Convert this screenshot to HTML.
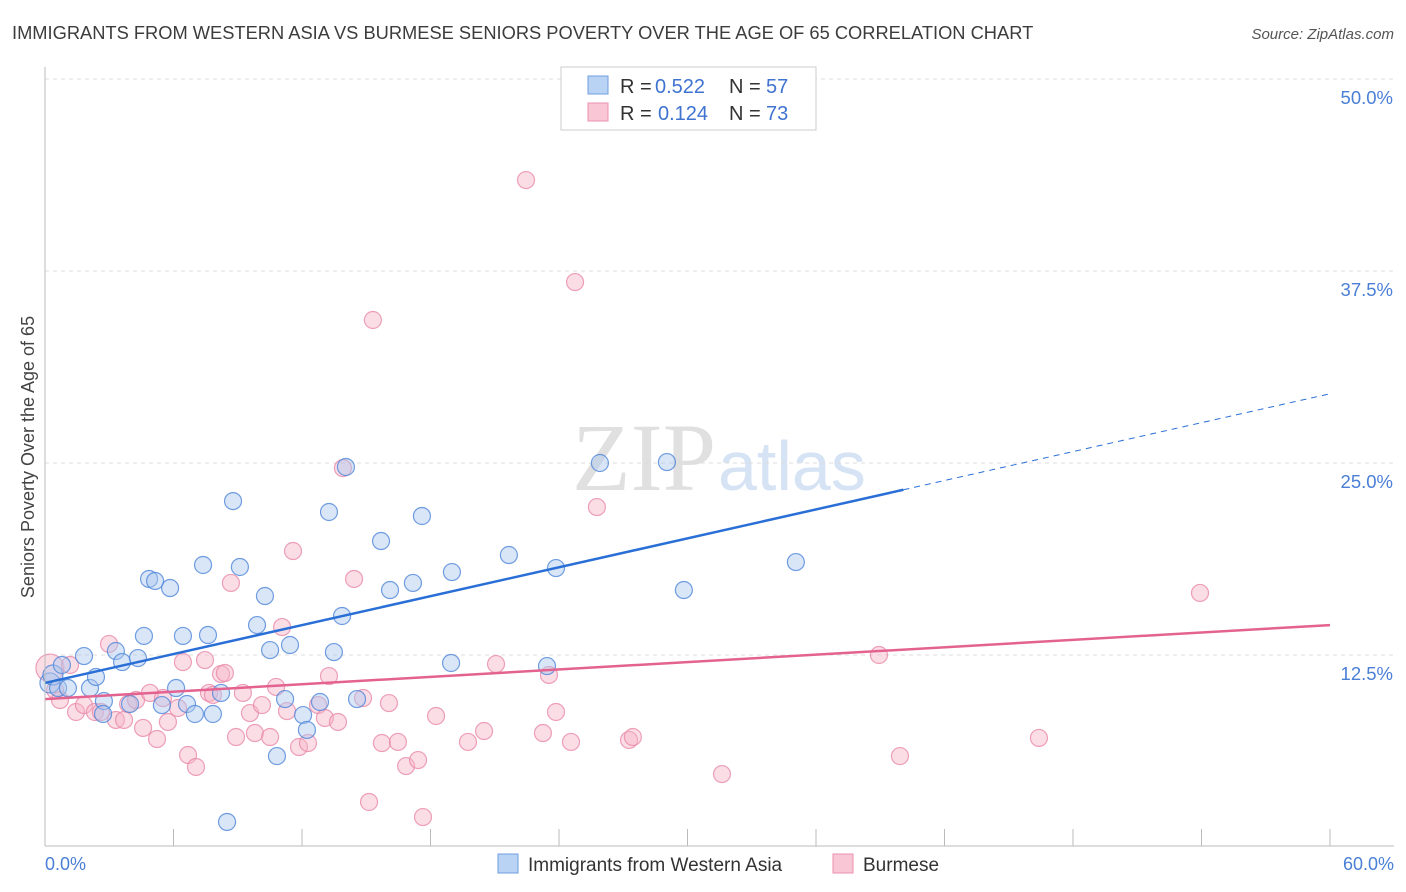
<!DOCTYPE html>
<html><head><meta charset="utf-8">
<style>
body{margin:0;background:#fff;font-family:"Liberation Sans",sans-serif;}
#wrap{position:relative;width:1406px;height:892px;overflow:hidden;}
</style></head>
<body>
<div id="wrap">
<svg id="svg" width="1406" height="892">
<text x="12" y="39" font-size="18.3" fill="#3c3c3c">IMMIGRANTS FROM WESTERN ASIA VS BURMESE SENIORS POVERTY OVER THE AGE OF 65 CORRELATION CHART</text>
<text x="1394" y="39" font-size="15" fill="#555" font-style="italic" text-anchor="end">Source: ZipAtlas.com</text>
<text x="0" y="0" transform="translate(34,457) rotate(-90)" font-size="18" fill="#444" text-anchor="middle">Seniors Poverty Over the Age of 65</text>
<text x="716" y="490" font-size="96" fill="#e0e0e0" text-anchor="end" font-family="Liberation Serif,serif">ZIP</text>
<text x="718" y="490" font-size="70" fill="#d5e3f5">atlas</text>
<g id="grid"></g><g id="pts"></g><g id="lines"></g>
<line x1="45" y1="67" x2="45" y2="846" stroke="#bbb"/>
<line x1="45" y1="846" x2="1394" y2="846" stroke="#bbb"/>
<text x="45" y="870" font-size="18" fill="#4a7fd6">0.0%</text>
<text x="1394" y="870" font-size="18" fill="#4a7fd6" text-anchor="end">60.0%</text>
<g>
<rect x="561" y="67" width="255" height="63" fill="#fff" stroke="#ccc"/>
<rect x="588" y="76" width="20" height="18" fill="#b9d3f5" stroke="#6f9de0"/>
<rect x="588" y="103" width="20" height="18" fill="#f9c6d6" stroke="#ec90ae"/>
<text x="620" y="93" font-size="20" fill="#333">R =</text>
<text x="655" y="93" font-size="20" fill="#3f73d0">0.522</text>
<text x="729" y="93" font-size="20" fill="#333">N =</text>
<text x="766" y="93" font-size="20" fill="#3f73d0">57</text>
<text x="620" y="120" font-size="20" fill="#333">R =</text>
<text x="658" y="120" font-size="20" fill="#3f73d0">0.124</text>
<text x="729" y="120" font-size="20" fill="#333">N =</text>
<text x="766" y="120" font-size="20" fill="#3f73d0">73</text>
</g>
<g>
<rect x="498" y="854" width="20" height="19" fill="#b9d3f5" stroke="#6f9de0"/>
<text x="528" y="871" font-size="19" fill="#333">Immigrants from Western Asia</text>
<rect x="833" y="854" width="20" height="19" fill="#f9c6d6" stroke="#ec90ae"/>
<text x="863" y="871" font-size="19" fill="#333">Burmese</text>
</g>
</svg>
</div>
<script>
const yTicks=[12.5,25,37.5,50];
const xTicks=[6,12,18,24,30,36,42,48,54,60];
const blueX=[0.23,0.37,0.61,0.79,1.07,1.82,2.10,2.38,2.75,2.71,3.31,3.60,3.97,4.34,4.62,4.86,5.14,5.46,5.84,6.12,6.44,6.63,7.00,7.38,7.61,7.84,8.22,8.78,8.50,9.10,9.90,10.27,10.51,10.83,11.21,11.44,12.05,12.23,12.84,13.26,13.49,13.87,14.05,14.57,15.69,16.11,17.18,17.60,19.00,18.96,21.66,23.44,23.86,25.91,29.04,29.83,35.06];
const blueY=[10.68,11.20,10.35,11.85,10.35,12.43,10.35,11.07,9.50,8.66,12.76,12.04,9.31,12.30,13.74,17.45,17.32,9.24,16.86,10.35,13.74,9.31,8.66,18.36,13.80,8.66,10.03,22.52,1.63,18.23,14.45,16.34,12.82,5.92,9.63,13.15,8.59,7.62,9.44,21.81,12.69,15.04,24.74,9.63,19.92,16.73,17.19,21.55,17.90,11.98,19.01,11.78,18.16,25.00,25.06,16.73,18.55];
const pinkX=[0.23,0.47,0.70,1.17,1.45,1.82,2.33,2.61,2.99,3.31,3.69,3.88,4.25,4.58,4.90,5.23,5.51,5.74,6.21,6.44,6.68,7.05,7.47,7.66,7.84,8.22,8.40,8.68,8.92,9.24,9.57,9.80,10.13,10.51,10.79,11.07,11.30,11.58,11.86,12.28,12.75,13.07,13.26,13.68,13.91,14.43,14.85,15.13,15.31,15.73,16.06,16.48,16.86,17.42,17.65,18.26,19.75,20.50,21.06,22.46,23.25,23.53,23.86,24.56,24.75,25.77,27.27,27.45,31.61,38.94,39.92,46.41,53.93];
const pinkY=[11.65,10.22,9.57,11.85,8.79,9.24,8.79,8.79,13.22,8.27,8.27,9.31,9.57,7.75,10.03,7.03,9.70,8.14,9.05,12.04,5.99,5.21,12.17,10.03,9.90,11.26,11.33,17.19,7.16,10.03,8.72,7.42,9.24,7.16,10.42,14.32,8.85,19.27,6.51,6.77,9.24,8.40,11.13,8.14,24.67,17.45,9.70,2.93,34.31,6.77,9.37,6.84,5.27,5.66,1.95,8.53,6.84,7.55,11.91,43.42,7.42,11.20,8.79,6.84,36.78,22.13,6.97,7.16,4.75,12.50,5.92,7.10,16.54];
const blueFit=[10.68,0.3138]; // intercept, slope
const pinkFit=[9.63,0.0803];
const blueSolidEnd=40.08;

const NS="http://www.w3.org/2000/svg";
const sx=v=>45+v/60*1285;
const sy=v=>847-v/12.5*192;
function mk(tag,attrs,parent){const e=document.createElementNS(NS,tag);for(const k in attrs)e.setAttribute(k,attrs[k]);parent.appendChild(e);return e;}
const grid=document.getElementById('grid'),pts=document.getElementById('pts'),lines=document.getElementById('lines'),svg=document.getElementById('svg');
yTicks.forEach(t=>{
  const l=mk('line',{x1:45,x2:1394,y1:sy(t),y2:sy(t),stroke:'#ddd','stroke-dasharray':'4,4'},grid);
  
  
  const tx=mk('text',{x:1393,y:sy(t)+25,'font-size':18.5,fill:'#4a7fd6','text-anchor':'end'},svg);
  tx.textContent=t.toFixed(1)+'%';
  
  
});
xTicks.forEach(t=>{
  const l=mk('line',{x1:sx(t),x2:sx(t),y1:829,y2:846,stroke:'#bbb'},grid);
  
  
});
function dots(X,Y,fill,stroke,name){
  X.forEach((x,i)=>{
    const r=(i===0&&name==='pink-point')?14:(i<2&&name==='blue-point'?10:8.5);
    const c=mk('circle',{cx:sx(x),cy:sy(Y[i]),r:r,fill:fill,'fill-opacity':0.45,stroke:stroke,'stroke-opacity':0.8,'stroke-width':1.2},pts);
    
    
  });
}
dots(pinkX,pinkY,'#f6b3c8','#e98aa9','pink-point');
dots(blueX,blueY,'#aac8f0','#4f86d8','blue-point');
let l1=mk('line',{x1:sx(0),y1:sy(blueFit[0]),x2:sx(blueSolidEnd),y2:sy(blueFit[0]+blueFit[1]*blueSolidEnd),stroke:'#2a6fd6','stroke-width':2.5},lines);


let l2=mk('line',{x1:sx(blueSolidEnd),y1:sy(blueFit[0]+blueFit[1]*blueSolidEnd),x2:sx(60),y2:sy(blueFit[0]+blueFit[1]*60),stroke:'#2a6fd6','stroke-width':1,'stroke-dasharray':'6,5'},lines);


let l3=mk('line',{x1:sx(0),y1:sy(pinkFit[0]),x2:sx(60),y2:sy(pinkFit[0]+pinkFit[1]*60),stroke:'#e4628f','stroke-width':2.5},lines);


</script>
</body></html>
